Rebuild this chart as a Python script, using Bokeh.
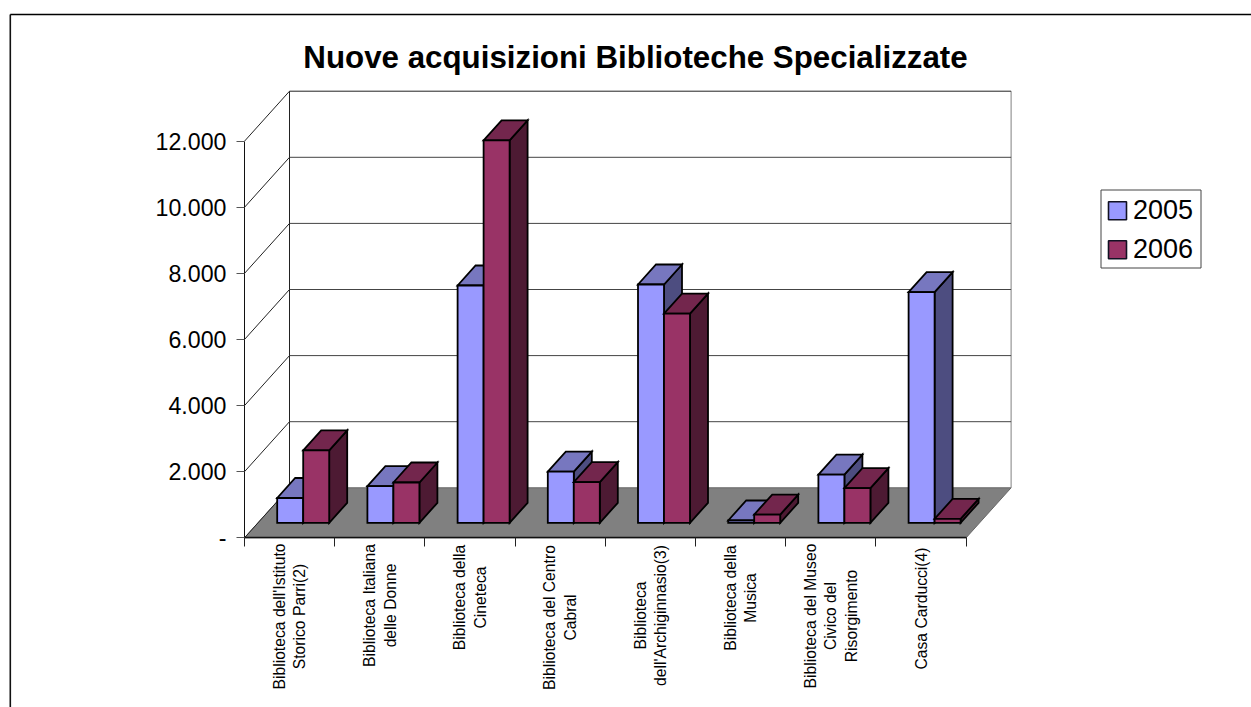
from bokeh.plotting import figure
from bokeh.models import LinearAxis, FixedTicker, Range1d
from bokeh.core.properties import value
from bokeh.embed import file_html
from bokeh.resources import INLINE
import math

TITLE = "Nuove acquisizioni Biblioteche Specializzate"
CATEGORIES = [
    ["Biblioteca dell'Istituto", "Storico Parri(2)"],
    ["Biblioteca Italiana", "delle Donne"],
    ["Biblioteca della", "Cineteca"],
    ["Biblioteca del Centro", "Cabral"],
    ["Biblioteca", "dell'Archiginnasio(3)"],
    ["Biblioteca della", "Musica"],
    ["Biblioteca del Museo", "Civico del", "Risorgimento"],
    ["Casa Carducci(4)"],
]
SERIES = ["2005", "2006"]
V2005 = [750, 1110, 7180, 1550, 7210, 70, 1460, 6980]
V2006 = [2190, 1220, 11570, 1230, 6330, 250, 1050, 120]
Y_TICKS = [0, 2000, 4000, 6000, 8000, 10000, 12000]
Y_LABELS = ["-", "2.000", "4.000", "6.000", "8.000", "10.000", "12.000"]

FONT = "Liberation Sans"
FRONT = ["#9999FF", "#993366"]
TOP = ["#7777BF", "#73264D"]
SIDE = ["#4D4D80", "#4D1A33"]

# scale calibration: pixels per category and per value, and the page position of the origin
PXC, PXV, OX, OY = 90.2, 66.1 / 2000, 244.0, 537.3
W, H, M = 1251, 707, 0


def X(px):
    return (px - OX) / PXC


def Y(py):
    return (OY - py) / PXV


DX = 45 / PXC      # full depth of the floor
DY = 50 / PXV
FDX, FDY = 13.5 / PXC, 15 / PXV   # bar front offset
BDX, BDY = 18 / PXC, 20 / PXV     # bar depth
GAP, BW = 19.2 / PXC, 26 / PXC

p = figure(width=W, height=H, output_backend="svg", toolbar_location=None,
           x_range=Range1d(X(M), X(M + W)), y_range=Range1d(Y(M + H), Y(M)),
           x_axis_location=None, y_axis_location=None, min_border=0,
           background_fill_color="white", border_fill_color="white", outline_line_color=None)
p.grid.visible = False

# chart frame
p.line([X(9.8), X(9.8)], [Y(M + H), Y(14)], line_color="#111111", line_width=1.6)
p.line([X(9.8), X(M + W)], [Y(14), Y(14)], line_color="#000000", line_width=1.6)

n = len(CATEGORIES)
top = Y_TICKS[-1]

# floor
p.patch([0, DX, n + DX, n], [0, DY, DY, 0], fill_color="#808080", line_color="#666666", line_width=1)

# walls
p.line([DX, DX], [DY, top + DY], line_color="#222222", line_width=1)
p.line([n + DX, n + DX], [DY, top + DY], line_color="#808080", line_width=1)
for v in Y_TICKS:
    if v > 0:
        p.line([DX, n + DX], [v + DY, v + DY], line_color="#222222" if v == top else "#444444", line_width=1)
    p.line([0, DX], [v, v + DY], line_color="#222222", line_width=1)

# bars, series by series, back to front
for s, vals in enumerate([V2005, V2006]):
    for i, v in enumerate(vals):
        x0 = i + FDX + GAP + s * BW
        x1 = x0 + BW
        y0 = FDY
        y1 = FDY + v
        kw = dict(line_color="black", line_width=1.8, line_join="miter")
        p.patch([x1, x1 + BDX, x1 + BDX, x1], [y0, y0 + BDY, y1 + BDY, y1], fill_color=SIDE[s], **kw)
        p.patch([x0, x1, x1 + BDX, x0 + BDX], [y1, y1, y1 + BDY, y1 + BDY], fill_color=TOP[s], **kw)
        p.patch([x0, x1, x1, x0], [y0, y0, y1, y1], fill_color=FRONT[s], **kw)

# axes
yax = LinearAxis(fixed_location=0, ticker=FixedTicker(ticks=Y_TICKS),
                 major_label_overrides=dict(zip(Y_TICKS, Y_LABELS)),
                 bounds=(0, top), major_tick_in=0, major_tick_out=8, minor_tick_line_color=None,
                 axis_line_color="#111111", major_tick_line_color="#555555",
                 major_label_text_font=FONT, major_label_text_font_size="23.2px",
                 major_label_text_color="black", major_label_standoff=10)
p.add_layout(yax, "left")
xt = list(range(n + 1))
xax = LinearAxis(fixed_location=0, ticker=FixedTicker(ticks=xt),
                 major_label_overrides={t: "" for t in xt},
                 bounds=(0, n), major_tick_in=0, major_tick_out=9, minor_tick_line_color=None,
                 axis_line_color="#111111", axis_line_width=1.6, major_tick_line_color="#222222")
p.add_layout(xax, "below")

# category labels
LINE_STEP = 20.7 / PXC
BLOCK_CY = [616, 605, 597, 617, 615, 597.5, 615.5, 608]
for i, lines in enumerate(CATEGORIES):
    for j, t in enumerate(lines):
        off = (j - (len(lines) - 1) / 2) * LINE_STEP
        p.text([i + 0.5 + off], [Y(BLOCK_CY[i])], text=[t], angle=math.pi / 2,
               text_align="center", text_baseline="middle", text_font=value(FONT),
               text_font_size="15.7px", text_color="black")

# title
p.text([X(635)], [Y(57)], text=[TITLE], text_align="center", text_baseline="middle",
       text_font=value(FONT), text_font_size="31.3px", text_font_style="bold", text_color="black")

# legend
p.quad(left=[X(1100.5)], right=[X(1200.5)], top=[Y(189.5)], bottom=[Y(267.5)],
       fill_color="white", line_color="#444444", line_width=1)
for s, name in enumerate(SERIES):
    cy = 210.3 + s * 39
    p.quad(left=[X(1108)], right=[X(1126)], top=[Y(cy - 9)], bottom=[Y(cy + 9)],
           fill_color=FRONT[s], line_color="#111122", line_width=1.6)
    p.text([X(1132.5)], [Y(cy - 1)], text=[name], text_align="left", text_baseline="middle",
           text_font=value(FONT), text_font_size="27px", text_color="black")

open("out.html", "w").write(file_html(p, INLINE))
